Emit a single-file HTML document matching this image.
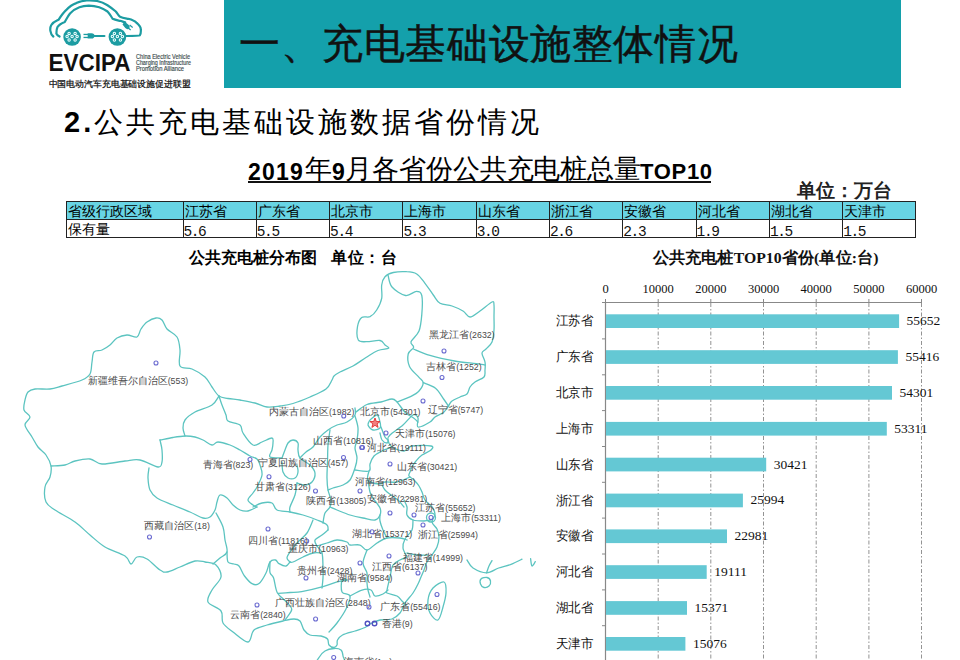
<!DOCTYPE html>
<html><head><meta charset="utf-8">
<style>
*{margin:0;padding:0;box-sizing:border-box}
html,body{width:960px;height:660px;overflow:hidden;background:#fff}
body{position:relative;font-family:"Liberation Sans",sans-serif;color:#000}
.abs{position:absolute;white-space:nowrap}
#hdr{position:absolute;left:224px;top:0;width:677px;height:88px;background:#14a0ab}
#hdr .t{position:absolute;left:240px;top:18px;font-size:41px;line-height:48px;color:#111;letter-spacing:0px}
table.d{position:absolute;left:66px;top:201px;border-collapse:collapse;font-size:14px}
table.d td{border:1px solid #222;height:17.7px;padding:0 0 0 1px;line-height:16px;vertical-align:bottom;overflow:hidden}
table.d tr.h td{background:#68d4e4}
table.d tr.r td{height:18.6px}
table.d td.n{font-family:"Liberation Mono",monospace;font-size:14.5px;letter-spacing:-1.4px;line-height:15px;padding-left:0;position:relative;top:3px;color:#111}
</style></head><body>
<!-- logo -->
<svg class="abs" style="left:0;top:0" width="220" height="95" viewBox="0 0 220 95">
 <g fill="none" stroke="#1c9ca2" stroke-width="2.2" stroke-linecap="round" stroke-linejoin="round">
  <path d="M53.3 36.5 C50 34 49.5 28 51.3 25 C53 22 56 21 58.5 19.8 C61 16 63 13 65.8 10.4 C69 7 72 4.5 76.3 3.1 C80 1.5 83 0.7 86.7 0.5 C90 0.3 94 0.5 97 1 C101 1.8 104 3 107.5 5.2 C111 7.5 113.5 9.5 115.8 11.5 C117.5 13.5 118.5 15.5 120 16.7 C122.5 18 125.5 18.3 128.3 18.8 C132 19.7 135 21 136.7 22.9 C139 25 140.8 27 140.8 29.2 C141 32 140.5 34.5 139.8 35.4 C139 36 134 36 126.3 36"/>
  <path d="M59.6 36.5 C57 35 56 33.5 56.5 32.3 C56.5 30 56.8 28.5 57.5 27 C59 24.5 62 23 64.8 21.9 C66.5 19 68 16 70 13.5 C73 10.5 76 8.5 79.4 7.3 C82.5 6.2 85.5 5.8 88.8 5.7 C92.5 5.7 96 6.3 99.2 7.3 C102.5 8.5 105.5 10 107.5 11.5 C110 14 111 16.5 112.7 18.8 C115 20 117.5 20.3 120 20.8 C122 21.3 123.5 22 125.2 22.4"/>
  <path d="M94 36 L104.4 36"/>
 </g>
 <circle cx="72.1" cy="37" r="8.8" fill="#1c9ca2"/>
 <circle cx="117.4" cy="37" r="8.8" fill="#1c9ca2"/>
 <g fill="none" stroke="#f0ffff" stroke-width="1.05">
  <circle cx="69.1" cy="33.4" r="1.2"/><circle cx="75.1" cy="33.4" r="1.2"/><circle cx="67.1" cy="36.5" r="1.2"/><circle cx="72.1" cy="36.5" r="1.2"/><circle cx="77.1" cy="36.5" r="1.2"/><circle cx="69.1" cy="40" r="1.2"/><circle cx="75.1" cy="40" r="1.2"/>
  <circle cx="114.4" cy="33.4" r="1.2"/><circle cx="120.4" cy="33.4" r="1.2"/><circle cx="112.4" cy="36.5" r="1.2"/><circle cx="117.4" cy="36.5" r="1.2"/><circle cx="122.4" cy="36.5" r="1.2"/><circle cx="114.4" cy="40" r="1.2"/><circle cx="120.4" cy="40" r="1.2"/>
 </g>
 <g fill="#1c9ca2">
  <path d="M87.7 33.3 L91.5 33.3 C93.5 33.3 94.5 34.5 94.5 35.9 C94.5 37.3 93.5 38.5 91.5 38.5 L87.7 38.5 Z"/>
  <rect x="83.5" y="33.8" width="4.5" height="1.3"/><rect x="83.5" y="36.8" width="4.5" height="1.3"/>
  <path d="M124.5 21.5 L128.5 24.8 C130 26 130 27.5 129 28.5 C128 29.5 126.5 29.3 125.3 28 L122.5 24.5 Z"/>
  <rect x="130" y="24.5" width="4" height="1.2" transform="rotate(40 130 24.5)"/><rect x="128" y="27" width="4" height="1.2" transform="rotate(40 128 27)"/>
 </g>
 <text x="48.5" y="70.5" font-family="Liberation Sans" font-weight="bold" font-size="23.5" fill="#111" textLength="82" lengthAdjust="spacingAndGlyphs">EVCIPA</text>
 <g font-family="Liberation Sans" font-size="6.3" fill="#3a4a4c" stroke="#3a4a4c" stroke-width="0.15">
  <text x="136" y="58.5" textLength="54" lengthAdjust="spacingAndGlyphs">China Electric Vehicle</text>
  <text x="136" y="64.5" textLength="55" lengthAdjust="spacingAndGlyphs">Charging Infrastructure</text>
  <text x="136" y="70.5" textLength="48" lengthAdjust="spacingAndGlyphs">Promotion Alliance</text>
 </g>
 <text x="48.5" y="87" font-family="Liberation Sans" font-size="9" fill="#111" stroke="#111" stroke-width="0.25" textLength="142" lengthAdjust="spacingAndGlyphs">中国电动汽车充电基础设施促进联盟</text>
</svg>
<div id="hdr"></div>
<div class="abs" style="left:239px;top:19.5px;font-size:41px;line-height:48px;color:#111;letter-spacing:0.6px;-webkit-text-stroke:0.45px #111">一、充电基础设施整体情况</div>

<div class="abs" style="left:64px;top:104px;font-size:29px;line-height:36px;letter-spacing:3px"><b>2.</b>公共充电基础设施数据省份情况</div>

<div class="abs" style="left:248px;top:157.5px;font-size:23px;line-height:28px;font-weight:bold;letter-spacing:1.2px">2019</div>
<div class="abs" style="left:305px;top:153px;font-size:27px;line-height:32px">年</div>
<div class="abs" style="left:332px;top:157.5px;font-size:23px;line-height:28px;font-weight:bold">9</div>
<div class="abs" style="left:345px;top:153px;font-size:27px;line-height:32px">月</div>
<div class="abs" style="left:372px;top:153px;font-size:27px;line-height:32px;letter-spacing:-0.1px">各省份公共充电桩总量</div>
<div class="abs" style="left:640px;top:157.5px;font-size:22px;line-height:28px;font-weight:bold;letter-spacing:0.7px">TOP10</div>
<div class="abs" style="left:248px;top:180.5px;width:463px;height:2px;background:#111"></div>
<div class="abs" style="left:797px;top:179px;font-size:18.5px;line-height:24px;font-weight:bold;color:#222">单位：万台</div>

<table class="d">
<tr class="h"><td style="width:116.5px">省级行政区域</td><td style="width:73.3px">江苏省</td><td style="width:73.3px">广东省</td><td style="width:73.3px">北京市</td><td style="width:73.3px">上海市</td><td style="width:73.3px">山东省</td><td style="width:73.3px">浙江省</td><td style="width:73.3px">安徽省</td><td style="width:73.3px">河北省</td><td style="width:73.3px">湖北省</td><td style="width:73.3px">天津市</td></tr>
<tr class="r"><td>保有量</td><td class="n">5.6</td><td class="n">5.5</td><td class="n">5.4</td><td class="n">5.3</td><td class="n">3.0</td><td class="n">2.6</td><td class="n">2.3</td><td class="n">1.9</td><td class="n">1.5</td><td class="n">1.5</td></tr>
</table>

<div class="abs" style="left:189px;top:248px;font-size:15.5px;line-height:20px;font-weight:bold">公共充电桩分布图</div>
<div class="abs" style="left:331px;top:248px;font-size:15.5px;line-height:20px;font-weight:bold;letter-spacing:0.6px">单位：台</div>

<!-- MAP -->
<svg id="map" class="abs" style="left:0;top:0" width="560" height="660" viewBox="0 0 560 660">
<g fill="none" stroke="#5cc4c0" stroke-width="1.3" stroke-linejoin="round" stroke-linecap="round">
<path d="M51.0 466.0 C50.3 462.3 48.2 458.2 46.0 455.0 C43.8 451.8 40.3 450.0 38.0 447.0 C35.7 444.0 34.2 440.7 32.0 437.0 C29.8 433.3 25.3 428.3 25.0 425.0 C24.7 421.7 30.2 419.5 30.0 417.0 C29.8 414.5 24.8 412.8 24.0 410.0 C23.2 407.2 24.3 403.0 25.0 400.0 C25.7 397.0 26.3 393.8 28.0 392.0 C29.7 390.2 31.3 389.5 35.0 389.0 C38.7 388.5 45.5 389.5 50.0 389.0 C54.5 388.5 56.7 387.5 62.0 386.0 C67.3 384.5 77.3 382.0 82.0 380.0 C86.7 378.0 88.3 377.0 90.0 374.0 C91.7 371.0 91.3 365.7 92.0 362.0 C92.7 358.3 92.3 354.0 94.0 352.0 C95.7 350.0 99.3 351.2 102.0 350.0 C104.7 348.8 107.5 347.0 110.0 345.0 C112.5 343.0 114.2 339.7 117.0 338.0 C119.8 336.3 123.7 335.2 127.0 335.0 C130.3 334.8 134.7 338.0 137.0 337.0 C139.3 336.0 139.3 331.5 141.0 329.0 C142.7 326.5 144.5 323.8 147.0 322.0 C149.5 320.2 153.5 318.3 156.0 318.0 C158.5 317.7 160.2 318.2 162.0 320.0 C163.8 321.8 164.5 326.2 167.0 329.0 C169.5 331.8 174.8 333.5 177.0 337.0 C179.2 340.5 179.5 345.2 180.0 350.0 C180.5 354.8 178.0 362.8 180.0 366.0 C182.0 369.2 187.8 367.2 192.0 369.0 C196.2 370.8 201.7 374.0 205.0 377.0 C208.3 380.0 209.7 383.8 212.0 387.0 C214.3 390.2 216.3 394.1 219.0 396.0 C221.7 397.9 224.5 397.8 228.0 398.5 C231.5 399.2 235.5 399.2 240.0 400.0 C244.5 400.8 250.5 401.8 255.0 403.0 C259.5 404.2 262.8 406.5 267.0 407.0 C271.2 407.5 275.7 406.6 280.0 406.0 C284.3 405.4 288.0 405.0 293.0 403.5 C298.0 402.0 304.5 399.4 310.0 397.0 C315.5 394.6 322.3 391.8 326.0 389.0 C329.7 386.2 330.7 382.2 332.0 380.0 C333.3 377.8 332.7 377.3 334.0 376.0 C335.3 374.7 336.8 373.7 340.0 372.0 C343.2 370.3 348.7 368.4 353.0 366.0 C357.3 363.6 361.8 360.1 366.0 357.5 C370.2 354.9 374.2 352.0 378.0 350.5 C381.8 349.0 387.3 349.2 388.5 348.3 C389.7 347.4 386.4 346.3 385.0 345.0 C383.6 343.7 383.1 341.1 380.0 340.5 C376.9 339.9 370.3 341.8 366.7 341.7 C363.1 341.6 359.8 342.5 358.3 340.0 C356.8 337.5 356.9 330.4 357.5 326.7 C358.1 322.9 359.6 319.2 361.7 317.5 C363.8 315.8 367.5 317.9 370.0 316.7 C372.5 315.4 374.8 313.1 376.7 310.0 C378.6 306.9 380.9 302.5 381.7 298.3 C382.5 294.1 381.1 288.6 381.7 285.0 C382.2 281.4 383.1 278.8 385.0 276.7 C386.9 274.6 389.7 273.3 393.3 272.5 C396.9 271.7 402.8 271.4 406.7 271.7 C410.6 271.9 413.6 272.1 416.7 274.0 C419.8 275.9 422.2 279.8 425.0 283.3 C427.8 286.8 430.8 291.7 433.3 295.0 C435.8 298.3 436.9 301.5 440.0 303.3 C443.1 305.1 448.2 304.7 452.0 306.0 C455.8 307.3 460.0 309.2 463.0 311.0 C466.0 312.8 467.2 317.0 470.0 317.0 C472.8 317.0 476.3 313.5 480.0 311.0 C483.7 308.5 489.7 303.0 492.0 302.0 C494.3 301.0 493.7 302.5 494.0 305.0 C494.3 307.5 494.0 312.8 494.0 317.0 C494.0 321.2 494.3 325.8 494.0 330.0 C493.7 334.2 493.3 338.8 492.0 342.0 C490.7 345.2 487.7 347.2 486.0 349.0 C484.3 350.8 482.2 350.8 482.0 353.0 C481.8 355.2 484.5 359.2 485.0 362.0 C485.5 364.8 485.2 367.5 485.0 370.0 C484.8 372.5 485.7 375.0 484.0 377.0 C482.3 379.0 477.3 380.3 475.0 382.0 C472.7 383.7 471.3 385.0 470.0 387.0 C468.7 389.0 468.7 392.3 467.0 394.0 C465.3 395.7 462.5 395.8 460.0 397.0 C457.5 398.2 453.8 399.7 452.0 401.0 C450.2 402.3 450.3 403.2 449.0 405.0 C447.7 406.8 446.3 410.0 444.0 412.0 C441.7 414.0 437.3 415.3 435.0 417.0 C432.7 418.7 432.8 420.3 430.0 422.0 C427.2 423.7 420.0 427.7 418.0 427.0 C416.0 426.3 418.8 420.0 418.0 418.0 C417.2 416.0 415.5 413.8 413.0 415.0 C410.5 416.2 406.8 421.7 403.0 425.0 C399.2 428.3 392.5 432.5 390.0 435.0 C387.5 437.5 387.7 438.0 388.0 440.0 C388.3 442.0 389.3 445.2 392.0 447.0 C394.7 448.8 400.7 451.2 404.0 451.0 C407.3 450.8 407.5 446.8 412.0 446.0 C416.5 445.2 427.8 445.3 431.0 446.0 C434.2 446.7 432.5 448.5 431.0 450.0 C429.5 451.5 424.5 453.2 422.0 455.0 C419.5 456.8 417.7 459.0 416.0 461.0 C414.3 463.0 413.0 465.2 412.0 467.0 C411.0 468.8 410.5 470.5 410.0 472.0 C409.5 473.5 408.3 474.7 409.0 476.0 C409.7 477.3 412.3 478.3 414.0 480.0 C415.7 481.7 417.7 484.0 419.0 486.0 C420.3 488.0 421.0 489.7 422.0 492.0 C423.0 494.3 423.3 497.5 425.0 500.0 C426.7 502.5 430.3 504.7 432.0 507.0 C433.7 509.3 435.0 511.5 435.0 514.0 C435.0 516.5 431.7 519.5 432.0 522.0 C432.3 524.5 435.8 526.5 437.0 529.0 C438.2 531.5 439.0 534.0 439.0 537.0 C439.0 540.0 438.2 544.0 437.0 547.0 C435.8 550.0 433.7 552.5 432.0 555.0 C430.3 557.5 428.3 559.5 427.0 562.0 C425.7 564.5 425.0 567.5 424.0 570.0 C423.0 572.5 422.0 574.7 421.0 577.0 C420.0 579.3 419.3 581.3 418.0 584.0 C416.7 586.7 415.2 589.8 413.0 593.0 C410.8 596.2 407.2 599.7 405.0 603.0 C402.8 606.3 402.2 610.3 400.0 613.0 C397.8 615.7 395.3 617.8 392.0 619.0 C388.7 620.2 383.7 619.2 380.0 620.0 C376.3 620.8 372.5 622.8 370.0 624.0 C367.5 625.2 367.5 626.3 365.0 627.5 C362.5 628.7 358.8 629.8 355.0 631.0 C351.2 632.2 345.4 633.5 342.5 635.0 C339.6 636.5 338.4 638.3 337.5 640.0 C336.6 641.7 337.6 643.8 337.0 645.0 C336.4 646.2 335.3 647.5 334.0 647.5 C332.7 647.5 330.1 646.4 329.0 645.0 C327.9 643.6 328.8 640.5 327.5 639.0 C326.2 637.5 323.9 636.7 321.0 636.0 C318.1 635.3 312.8 636.0 310.0 635.0 C307.2 634.0 305.7 632.3 304.0 630.0 C302.3 627.7 301.7 622.8 300.0 621.0 C298.3 619.2 296.8 619.0 294.0 619.0 C291.2 619.0 287.5 620.0 283.0 621.0 C278.5 622.0 271.8 623.5 267.0 625.0 C262.2 626.5 257.2 627.2 254.0 630.0 C250.8 632.8 251.5 641.7 248.0 642.0 C244.5 642.3 237.2 635.2 233.0 632.0 C228.8 628.8 225.0 626.5 223.0 623.0 C221.0 619.5 223.5 614.5 221.0 611.0 C218.5 607.5 209.5 605.5 208.0 602.0 C206.5 598.5 209.8 594.2 212.0 590.0 C214.2 585.8 220.3 581.2 221.0 577.0 C221.7 572.8 218.7 567.5 216.0 565.0 C213.3 562.5 208.5 562.7 205.0 562.0 C201.5 561.3 199.2 560.2 195.0 561.0 C190.8 561.8 184.7 565.2 180.0 567.0 C175.3 568.8 170.3 571.5 167.0 572.0 C163.7 572.5 163.3 572.2 160.0 570.0 C156.7 567.8 150.8 561.2 147.0 559.0 C143.2 556.8 139.7 556.2 137.0 557.0 C134.3 557.8 133.0 564.2 131.0 564.0 C129.0 563.8 129.3 558.8 125.0 556.0 C120.7 553.2 110.8 550.5 105.0 547.0 C99.2 543.5 95.0 539.2 90.0 535.0 C85.0 530.8 80.8 526.2 75.0 522.0 C69.2 517.8 59.8 513.3 55.0 510.0 C50.2 506.7 47.7 505.8 46.0 502.0 C44.3 498.2 44.3 491.2 45.0 487.0 C45.7 482.8 49.0 480.5 50.0 477.0 C51.0 473.5 51.7 469.7 51.0 466.0Z"/>
<path d="M51.0 466.0 C53.3 465.8 61.0 465.8 65.0 465.0 C69.0 464.2 70.8 462.0 75.0 461.0 C79.2 460.0 85.5 458.5 90.0 459.0 C94.5 459.5 96.2 463.7 102.0 464.0 C107.8 464.3 118.7 461.7 125.0 461.0 C131.3 460.3 134.5 459.0 140.0 460.0 C145.5 461.0 154.3 466.7 158.0 467.0 C161.7 467.3 161.3 464.8 162.0 462.0 C162.7 459.2 162.3 453.7 162.0 450.0 C161.7 446.3 160.3 441.7 160.0 440.0"/>
<path d="M219.0 396.0 C217.8 397.5 216.0 402.3 212.0 405.0 C208.0 407.7 199.5 409.5 195.0 412.0 C190.5 414.5 187.0 417.3 185.0 420.0 C183.0 422.7 183.0 425.3 183.0 428.0 C183.0 430.7 184.7 434.7 185.0 436.0"/>
<path d="M160.0 440.0 C162.2 439.6 168.8 438.2 173.0 437.5 C177.2 436.8 181.3 436.1 185.0 436.0 C188.7 435.9 192.0 436.3 195.0 437.0 C198.0 437.7 200.2 438.7 203.0 440.0 C205.8 441.3 209.5 444.7 212.0 445.0 C214.5 445.3 215.0 442.0 218.0 442.0 C221.0 442.0 226.3 443.7 230.0 445.0 C233.7 446.3 236.7 448.2 240.0 450.0 C243.3 451.8 247.2 454.5 250.0 456.0 C252.8 457.5 255.3 457.5 257.0 459.0 C258.7 460.5 259.2 462.3 260.0 465.0 C260.8 467.7 262.5 471.3 262.0 475.0 C261.5 478.7 258.5 484.0 257.0 487.0 C255.5 490.0 254.5 490.8 253.0 493.0 C251.5 495.2 248.0 498.0 248.0 500.0 C248.0 502.0 251.5 503.8 253.0 505.0 C254.5 506.2 256.3 506.7 257.0 507.0"/>
<path d="M257.0 507.0 C255.5 507.7 250.8 510.5 248.0 511.0 C245.2 511.5 242.5 511.0 240.0 510.0 C237.5 509.0 235.2 507.0 233.0 505.0 C230.8 503.0 229.2 499.7 227.0 498.0 C224.8 496.3 221.7 494.3 220.0 495.0 C218.3 495.7 217.8 499.5 217.0 502.0 C216.2 504.5 216.2 507.5 215.0 510.0 C213.8 512.5 212.0 515.7 210.0 517.0 C208.0 518.3 206.3 518.8 203.0 518.0 C199.7 517.2 195.0 514.2 190.0 512.0 C185.0 509.8 178.5 507.3 173.0 505.0 C167.5 502.7 160.8 500.5 157.0 498.0 C153.2 495.5 151.5 493.3 150.0 490.0 C148.5 486.7 148.2 481.7 148.0 478.0 C147.8 474.3 148.8 469.7 149.0 468.0"/>
<path d="M216.0 513.0 C217.2 515.3 221.5 522.5 223.0 527.0 C224.5 531.5 224.3 535.8 225.0 540.0 C225.7 544.2 227.8 549.0 227.0 552.0 C226.2 555.0 222.3 556.0 220.0 558.0 C217.7 560.0 214.2 563.0 213.0 564.0"/>
<path d="M253.0 507.0 C254.5 506.3 258.8 503.7 262.0 503.0 C265.2 502.3 269.5 501.8 272.0 503.0 C274.5 504.2 274.0 508.5 277.0 510.0 C280.0 511.5 285.7 511.2 290.0 512.0 C294.3 512.8 298.5 513.7 303.0 515.0 C307.5 516.3 313.0 518.3 317.0 520.0 C321.0 521.7 325.2 523.3 327.0 525.0 C328.8 526.7 327.8 529.2 328.0 530.0"/>
<path d="M297.0 483.0 C296.7 485.0 296.2 491.0 295.0 495.0 C293.8 499.0 290.8 504.2 290.0 507.0 C289.2 509.8 290.0 511.2 290.0 512.0"/>
<path d="M219.0 396.0 C219.5 397.5 220.8 401.8 222.0 405.0 C223.2 408.2 225.0 412.3 226.0 415.0 C227.0 417.7 225.7 419.3 228.0 421.0 C230.3 422.7 237.5 423.0 240.0 425.0 C242.5 427.0 240.8 429.7 243.0 433.0 C245.2 436.3 249.8 443.5 253.0 445.0 C256.2 446.5 258.8 443.2 262.0 442.0 C265.2 440.8 270.2 437.8 272.0 438.0 C273.8 438.2 273.0 441.0 273.0 443.0 C273.0 445.0 272.5 447.7 272.0 450.0 C271.5 452.3 268.3 455.7 270.0 457.0 C271.7 458.3 280.0 457.8 282.0 458.0"/>
<path d="M282.0 458.0 C282.5 456.7 284.0 452.5 285.0 450.0 C286.0 447.5 286.7 444.7 288.0 443.0 C289.3 441.3 291.3 440.0 293.0 440.0 C294.7 440.0 297.2 441.3 298.0 443.0 C298.8 444.7 297.7 447.5 298.0 450.0 C298.3 452.5 298.0 455.5 300.0 458.0 C302.0 460.5 307.5 462.5 310.0 465.0 C312.5 467.5 314.7 470.2 315.0 473.0 C315.3 475.8 313.7 480.0 312.0 482.0 C310.3 484.0 307.5 484.8 305.0 485.0 C302.5 485.2 298.3 483.3 297.0 483.0"/>
<path d="M282.0 462.0 C282.2 463.7 282.0 469.3 283.0 472.0 C284.0 474.7 286.0 477.0 288.0 478.0 C290.0 479.0 293.3 479.0 295.0 478.0 C296.7 477.0 297.7 474.2 298.0 472.0 C298.3 469.8 297.2 466.2 297.0 465.0"/>
<path d="M300.0 458.0 C301.0 457.0 303.8 453.8 306.0 452.0 C308.2 450.2 310.7 449.5 313.0 447.0 C315.3 444.5 317.5 439.8 320.0 437.0 C322.5 434.2 325.2 432.0 328.0 430.0 C330.8 428.0 333.8 426.3 337.0 425.0 C340.2 423.7 344.0 423.7 347.0 422.0 C350.0 420.3 353.7 417.3 355.0 415.0 C356.3 412.7 355.0 409.2 355.0 408.0"/>
<path d="M330.0 430.0 C329.7 432.5 328.4 439.7 328.0 445.0 C327.6 450.3 327.7 456.5 327.5 462.0 C327.3 467.5 326.9 473.3 327.0 478.0 C327.1 482.7 327.3 486.3 328.0 490.0 C328.7 493.7 330.7 497.2 331.0 500.0 C331.3 502.8 331.0 504.8 330.0 507.0 C329.0 509.2 326.2 510.3 325.0 513.0 C323.8 515.7 323.3 521.3 323.0 523.0"/>
<path d="M355.0 416.0 C355.5 418.0 357.7 424.0 358.0 428.0 C358.3 432.0 357.5 436.7 357.0 440.0 C356.5 443.3 355.0 445.0 355.0 448.0 C355.0 451.0 357.0 454.7 357.0 458.0 C357.0 461.3 356.2 464.3 355.0 468.0 C353.8 471.7 352.0 477.2 350.0 480.0 C348.0 482.8 345.8 483.7 343.0 485.0 C340.2 486.3 335.5 487.2 333.0 488.0 C330.5 488.8 328.8 489.7 328.0 490.0"/>
<path d="M355.0 470.0 C357.3 470.2 366.5 472.0 369.0 471.0 C371.5 470.0 369.2 466.5 370.0 464.0 C370.8 461.5 372.0 458.2 374.0 456.0 C376.0 453.8 379.0 452.5 382.0 451.0 C385.0 449.5 390.3 447.7 392.0 447.0"/>
<path d="M369.0 471.0 C368.8 472.5 366.3 477.8 368.0 480.0 C369.7 482.2 376.2 483.7 379.0 484.0 C381.8 484.3 382.0 482.3 385.0 482.0 C388.0 481.7 392.8 482.8 397.0 482.0 C401.2 481.2 407.8 477.8 410.0 477.0"/>
<path d="M330.0 507.0 C331.2 507.5 333.7 508.7 337.0 510.0 C340.3 511.3 345.7 513.7 350.0 515.0 C354.3 516.3 358.8 517.2 363.0 518.0 C367.2 518.8 372.2 520.5 375.0 520.0 C377.8 519.5 379.2 517.0 380.0 515.0 C380.8 513.0 381.2 510.8 380.0 508.0 C378.8 505.2 374.7 500.7 373.0 498.0 C371.3 495.3 370.8 495.0 370.0 492.0 C369.2 489.0 368.3 482.0 368.0 480.0"/>
<path d="M382.0 485.0 C382.5 485.8 383.5 488.3 385.0 490.0 C386.5 491.7 388.8 493.3 391.0 495.0 C393.2 496.7 395.8 498.0 398.0 500.0 C400.2 502.0 403.0 505.8 404.0 507.0"/>
<path d="M313.0 520.0 C312.0 522.2 309.7 529.2 307.0 533.0 C304.3 536.8 299.8 539.8 297.0 543.0 C294.2 546.2 291.7 549.5 290.0 552.0 C288.3 554.5 287.0 556.3 287.0 558.0 C287.0 559.7 289.5 561.3 290.0 562.0"/>
<path d="M328.0 530.0 C327.0 530.8 324.2 533.3 322.0 535.0 C319.8 536.7 315.8 538.2 315.0 540.0 C314.2 541.8 315.8 543.8 317.0 546.0 C318.2 548.2 321.0 549.5 322.0 553.0 C323.0 556.5 322.8 562.8 323.0 567.0 C323.2 571.2 323.2 574.5 323.0 578.0 C322.8 581.5 322.2 586.3 322.0 588.0"/>
<path d="M290.0 562.0 C290.5 562.0 290.8 562.8 293.0 562.0 C295.2 561.2 299.7 558.5 303.0 557.0 C306.3 555.5 309.8 553.7 313.0 553.0 C316.2 552.3 320.5 553.0 322.0 553.0"/>
<path d="M227.0 552.0 C227.2 553.7 226.8 560.0 228.0 562.0 C229.2 564.0 232.2 563.3 234.0 564.0 C235.8 564.7 237.2 564.0 239.0 566.0 C240.8 568.0 242.3 573.1 244.5 576.0 C246.7 578.9 249.6 582.3 252.0 583.6 C254.4 584.9 256.7 585.4 259.0 583.6 C261.3 581.8 264.2 576.6 266.0 573.0 C267.8 569.4 268.4 564.2 270.0 562.0 C271.6 559.8 274.0 559.7 275.5 560.0 C277.0 560.3 277.2 562.6 279.0 563.6 C280.8 564.6 284.2 566.3 286.0 566.0 C287.8 565.7 289.3 562.7 290.0 562.0"/>
<path d="M278.3 593.3 C280.2 593.2 286.1 592.8 290.0 592.5 C293.9 592.2 296.2 592.7 301.7 591.7 C307.2 590.7 316.9 588.4 323.0 586.7 C329.1 585.0 334.0 582.8 338.0 581.7 C342.0 580.6 345.5 580.3 347.0 580.0"/>
<path d="M285.0 620.0 C285.5 619.3 286.9 617.8 288.0 616.0 C289.1 614.2 292.0 611.4 291.7 609.0 C291.4 606.6 288.8 604.5 286.4 601.8 C284.0 599.1 279.4 596.7 277.3 592.7 C275.2 588.7 274.8 581.3 273.6 578.0 C272.4 574.7 270.6 575.4 270.0 572.7 C269.4 570.0 270.0 563.8 270.0 562.0"/>
<path d="M317.0 546.0 C318.7 545.5 323.7 544.0 327.0 543.0 C330.3 542.0 333.7 540.2 337.0 540.0 C340.3 539.8 344.8 541.2 347.0 542.0 C349.2 542.8 347.8 544.5 350.0 545.0 C352.2 545.5 357.2 544.2 360.0 545.0 C362.8 545.8 364.2 550.3 367.0 550.0 C369.8 549.7 373.7 545.0 377.0 543.0 C380.3 541.0 383.2 538.8 387.0 538.0 C390.8 537.2 396.7 537.7 400.0 538.0 C403.3 538.3 405.8 539.7 407.0 540.0"/>
<path d="M380.0 515.0 C380.0 516.0 379.5 518.5 380.0 521.0 C380.5 523.5 381.8 527.2 383.0 530.0 C384.2 532.8 386.3 536.7 387.0 538.0"/>
<path d="M367.0 550.0 C366.3 552.2 363.0 559.2 363.0 563.0 C363.0 566.8 366.3 569.7 367.0 573.0 C367.7 576.3 366.8 580.2 367.0 583.0 C367.2 585.8 367.5 587.7 368.0 590.0 C368.5 592.3 369.7 595.8 370.0 597.0"/>
<path d="M347.0 580.0 C346.2 580.0 342.8 578.0 342.0 580.0 C341.2 582.0 340.7 589.3 342.0 592.0 C343.3 594.7 349.3 593.2 350.0 596.0 C350.7 598.8 348.2 604.5 346.0 609.0 C343.8 613.5 339.8 619.2 337.0 623.0 C334.2 626.8 330.3 630.5 329.0 632.0"/>
<path d="M350.0 596.0 C352.0 595.0 358.5 591.0 362.0 590.0 C365.5 589.0 368.8 589.0 371.0 590.0 C373.2 591.0 373.0 595.3 375.0 596.0 C377.0 596.7 380.8 595.0 383.0 594.0 C385.2 593.0 387.2 590.7 388.0 590.0"/>
<path d="M407.0 557.0 C405.8 557.5 402.3 558.7 400.0 560.0 C397.7 561.3 394.7 562.2 393.0 565.0 C391.3 567.8 391.0 572.8 390.0 577.0 C389.0 581.2 387.5 587.3 387.0 590.0 C386.5 592.7 385.3 592.0 387.0 593.0 C388.7 594.0 394.5 594.7 397.0 596.0 C399.5 597.3 400.5 599.5 402.0 601.0 C403.5 602.5 405.3 604.3 406.0 605.0"/>
<path d="M404.0 500.0 C404.5 501.2 406.5 504.5 407.0 507.0 C407.5 509.5 406.0 512.8 407.0 515.0 C408.0 517.2 410.2 519.0 413.0 520.0 C415.8 521.0 421.0 521.0 424.0 521.0 C427.0 521.0 429.8 520.2 431.0 520.0"/>
<path d="M413.0 520.0 C412.8 521.7 413.3 526.8 412.0 530.0 C410.7 533.2 406.5 536.0 405.0 539.0 C403.5 542.0 402.7 545.0 403.0 548.0 C403.3 551.0 406.3 555.5 407.0 557.0"/>
<path d="M407.0 553.0 C408.7 553.3 413.5 554.7 417.0 555.0 C420.5 555.3 426.2 555.0 428.0 555.0"/>
<path d="M356.0 412.0 C357.8 410.8 362.8 406.2 367.0 404.5 C371.2 402.8 376.8 402.9 381.0 402.0 C385.2 401.1 389.3 399.0 392.0 399.0 C394.7 399.0 394.8 399.7 397.0 402.0 C399.2 404.3 402.7 410.0 405.5 412.7 C408.3 415.4 411.5 416.4 413.6 418.0 C415.7 419.6 417.3 421.3 418.0 422.0"/>
<path d="M388.0 275.0 C388.7 277.0 389.1 283.6 392.0 287.0 C394.9 290.4 401.4 294.8 405.5 295.5 C409.6 296.2 413.7 291.4 416.4 291.4 C419.1 291.4 420.9 291.6 421.8 295.5 C422.7 299.4 422.3 308.6 421.8 314.5 C421.3 320.4 420.8 326.4 419.0 331.0 C417.2 335.6 411.9 339.1 411.0 341.8 C410.1 344.5 414.1 345.3 413.6 347.3 C413.1 349.3 408.9 350.8 408.2 354.0 C407.5 357.2 407.7 362.5 409.5 366.4 C411.3 370.3 416.7 374.6 419.0 377.3 C421.3 380.0 423.2 380.4 423.2 382.7 C423.2 385.0 421.0 388.7 419.0 391.0 C417.0 393.3 414.6 394.6 411.0 396.4 C407.4 398.2 399.6 400.9 397.3 401.8"/>
<path d="M413.6 349.0 C416.3 350.1 423.2 353.4 430.0 355.4 C436.8 357.4 446.8 359.6 454.5 361.0 C462.2 362.4 471.3 362.9 476.4 363.6 C481.5 364.3 483.6 364.8 485.0 365.0"/>
<path d="M423.2 382.7 C425.2 383.6 432.1 385.5 435.5 388.2 C438.9 390.9 441.4 395.9 443.6 399.0 C445.9 402.1 448.1 405.7 449.0 407.0"/>
<path d="M370.0 420.0 C371.2 419.2 375.3 414.7 377.0 415.0 C378.7 415.3 379.5 419.8 380.0 422.0 C380.5 424.2 381.2 426.7 380.0 428.0 C378.8 429.3 375.0 430.5 373.0 430.0 C371.0 429.5 368.5 426.7 368.0 425.0 C367.5 423.3 369.7 420.8 370.0 420.0"/>
<path d="M381.0 427.0 C381.7 428.7 383.8 434.8 385.0 437.0 C386.2 439.2 387.7 439.0 388.0 440.0 C388.3 441.0 388.0 443.0 387.0 443.0 C386.0 443.0 383.2 441.7 382.0 440.0 C380.8 438.3 380.3 434.2 380.0 433.0"/>
<path d="M444.0 582.0 C446.2 582.8 446.2 588.8 446.0 593.0 C445.8 597.2 444.3 602.5 443.0 607.0 C441.7 611.5 440.2 619.0 438.0 620.0 C435.8 621.0 431.7 616.3 430.0 613.0 C428.3 609.7 427.5 604.2 428.0 600.0 C428.5 595.8 430.3 591.0 433.0 588.0 C435.7 585.0 441.8 581.2 444.0 582.0Z"/>
<path d="M325.0 651.0 C327.5 649.5 331.3 648.7 334.0 648.5 C336.7 648.3 339.5 648.8 341.0 650.0 C342.5 651.2 342.7 653.7 343.0 656.0 C343.3 658.3 347.2 662.7 343.0 664.0 C338.8 665.3 322.0 665.1 318.0 664.0 C314.0 662.9 317.8 659.7 319.0 657.5 C320.2 655.3 322.5 652.5 325.0 651.0Z"/>
<path d="M481.0 579.0 C482.1 577.9 485.4 577.2 487.0 577.5 C488.6 577.8 490.2 579.6 490.5 581.0 C490.8 582.4 490.1 584.9 489.0 586.0 C487.9 587.1 485.4 587.8 484.0 587.5 C482.6 587.2 481.0 585.4 480.5 584.0 C480.0 582.6 479.9 580.1 481.0 579.0Z"/>
<path d="M467.0 560.0 C468.0 561.3 469.7 565.9 473.0 568.0 C476.3 570.1 482.3 572.8 486.6 572.8 C490.9 572.8 494.6 569.4 498.7 568.0 C502.8 566.6 507.1 565.9 511.0 564.4 C514.9 562.9 520.2 560.1 522.0 559.2"/>
<path d="M486.6 572.8 C487.0 571.7 488.1 568.0 489.0 566.0 C489.9 564.0 491.5 561.5 492.0 560.6"/>
<path d="M530.6 558.7 C530.8 559.9 531.2 565.5 532.0 566.0 C532.8 566.5 534.8 562.3 535.3 561.6"/>
</g>
<text x="87.5" y="383.7" font-family="Liberation Sans" fill="#4a4a4a"><tspan font-size="9.6">新疆维吾尔自治区</tspan><tspan font-size="8.8" dx="0.2">(553)</tspan></text>
<circle cx="156" cy="363" r="2" fill="none" stroke="#6a6ad0" stroke-width="1.1"/>
<text x="144" y="528.7" font-family="Liberation Sans" fill="#4a4a4a"><tspan font-size="9.6">西藏自治区</tspan><tspan font-size="8.8" dx="0.2">(18)</tspan></text>
<circle cx="149.5" cy="537" r="2" fill="none" stroke="#6a6ad0" stroke-width="1.1"/>
<text x="202.5" y="467.7" font-family="Liberation Sans" fill="#4a4a4a"><tspan font-size="9.6">青海省</tspan><tspan font-size="8.8" dx="0.2">(823)</tspan></text>
<circle cx="250" cy="459.5" r="2" fill="none" stroke="#6a6ad0" stroke-width="1.1"/>
<text x="257.5" y="465.7" font-family="Liberation Sans" fill="#4a4a4a"><tspan font-size="9.6">宁夏回族自治区</tspan><tspan font-size="8.8" dx="0.2">(457)</tspan></text>
<circle cx="343.5" cy="457.5" r="2" fill="none" stroke="#6a6ad0" stroke-width="1.1"/>
<text x="255" y="489.7" font-family="Liberation Sans" fill="#4a4a4a"><tspan font-size="9.6">甘肃省</tspan><tspan font-size="8.8" dx="0.2">(3126)</tspan></text>
<circle cx="269" cy="476.7" r="2" fill="none" stroke="#6a6ad0" stroke-width="1.1"/>
<text x="313" y="443.7" font-family="Liberation Sans" fill="#4a4a4a"><tspan font-size="9.6">山西省</tspan><tspan font-size="8.8" dx="0.2">(10816)</tspan></text>
<circle cx="362.5" cy="447.5" r="2" fill="none" stroke="#6a6ad0" stroke-width="1.1"/>
<text x="306" y="503.7" font-family="Liberation Sans" fill="#4a4a4a"><tspan font-size="9.6">陕西省</tspan><tspan font-size="8.8" dx="0.2">(13805)</tspan></text>
<circle cx="315.5" cy="491" r="2" fill="none" stroke="#6a6ad0" stroke-width="1.1"/>
<text x="366.7" y="501.7" font-family="Liberation Sans" fill="#4a4a4a"><tspan font-size="9.6">安徽省</tspan><tspan font-size="8.8" dx="0.2">(22981)</tspan></text>
<circle cx="390" cy="513" r="2" fill="none" stroke="#6a6ad0" stroke-width="1.1"/>
<text x="355" y="484.7" font-family="Liberation Sans" fill="#4a4a4a"><tspan font-size="9.6">河南省</tspan><tspan font-size="8.8" dx="0.2">(12963)</tspan></text>
<circle cx="360" cy="491" r="2" fill="none" stroke="#6a6ad0" stroke-width="1.1"/>
<text x="268.75" y="414.7" font-family="Liberation Sans" fill="#4a4a4a"><tspan font-size="9.6">内蒙古自治区</tspan><tspan font-size="8.8" dx="0.2">(1982)</tspan></text>
<circle cx="343.75" cy="416" r="2" fill="none" stroke="#6a6ad0" stroke-width="1.1"/>
<text x="360" y="414.7" font-family="Liberation Sans" fill="#4a4a4a"><tspan font-size="9.6">北京市</tspan><tspan font-size="8.8" dx="0.2">(54301)</tspan></text>
<text x="427.5" y="412.7" font-family="Liberation Sans" fill="#4a4a4a"><tspan font-size="9.6">辽宁省</tspan><tspan font-size="8.8" dx="0.2">(5747)</tspan></text>
<circle cx="423" cy="401" r="2" fill="none" stroke="#6a6ad0" stroke-width="1.1"/>
<text x="429" y="337.7" font-family="Liberation Sans" fill="#4a4a4a"><tspan font-size="9.6">黑龙江省</tspan><tspan font-size="8.8" dx="0.2">(2632)</tspan></text>
<circle cx="444" cy="351" r="2" fill="none" stroke="#6a6ad0" stroke-width="1.1"/>
<text x="426" y="369.7" font-family="Liberation Sans" fill="#4a4a4a"><tspan font-size="9.6">吉林省</tspan><tspan font-size="8.8" dx="0.2">(1252)</tspan></text>
<circle cx="442" cy="377.5" r="2" fill="none" stroke="#6a6ad0" stroke-width="1.1"/>
<text x="395" y="436.7" font-family="Liberation Sans" fill="#4a4a4a"><tspan font-size="9.6">天津市</tspan><tspan font-size="8.8" dx="0.2">(15076)</tspan></text>
<circle cx="386" cy="433" r="2" fill="none" stroke="#6a6ad0" stroke-width="1.1"/>
<text x="366.7" y="450.7" font-family="Liberation Sans" fill="#4a4a4a"><tspan font-size="9.6">河北省</tspan><tspan font-size="8.8" dx="0.2">(19111)</tspan></text>
<circle cx="361.7" cy="447.5" r="2" fill="none" stroke="#6a6ad0" stroke-width="1.1"/>
<text x="396.7" y="470.2" font-family="Liberation Sans" fill="#4a4a4a"><tspan font-size="9.6">山东省</tspan><tspan font-size="8.8" dx="0.2">(30421)</tspan></text>
<circle cx="390" cy="464" r="2" fill="none" stroke="#6a6ad0" stroke-width="1.1"/>
<text x="415" y="510.7" font-family="Liberation Sans" fill="#4a4a4a"><tspan font-size="9.6">江苏省</tspan><tspan font-size="8.8" dx="0.2">(55652)</tspan></text>
<circle cx="414" cy="515" r="2" fill="none" stroke="#6a6ad0" stroke-width="1.1"/>
<text x="441" y="521.2" font-family="Liberation Sans" fill="#4a4a4a"><tspan font-size="9.6">上海市</tspan><tspan font-size="8.8" dx="0.2">(53311)</tspan></text>
<text x="417.5" y="537.7" font-family="Liberation Sans" fill="#4a4a4a"><tspan font-size="9.6">浙江省</tspan><tspan font-size="8.8" dx="0.2">(25994)</tspan></text>
<circle cx="423" cy="525" r="2" fill="none" stroke="#6a6ad0" stroke-width="1.1"/>
<text x="402.5" y="560.7" font-family="Liberation Sans" fill="#4a4a4a"><tspan font-size="9.6">福建省</tspan><tspan font-size="8.8" dx="0.2">(14999)</tspan></text>
<circle cx="418" cy="573" r="2" fill="none" stroke="#6a6ad0" stroke-width="1.1"/>
<text x="371.7" y="569.7" font-family="Liberation Sans" fill="#4a4a4a"><tspan font-size="9.6">江西省</tspan><tspan font-size="8.8" dx="0.2">(6137)</tspan></text>
<circle cx="389" cy="556" r="2" fill="none" stroke="#6a6ad0" stroke-width="1.1"/>
<text x="351.7" y="536.7" font-family="Liberation Sans" fill="#4a4a4a"><tspan font-size="9.6">湖北省</tspan><tspan font-size="8.8" dx="0.2">(15371)</tspan></text>
<circle cx="372" cy="531.7" r="2" fill="none" stroke="#6a6ad0" stroke-width="1.1"/>
<text x="336.7" y="581.2" font-family="Liberation Sans" fill="#4a4a4a"><tspan font-size="9.6">湖南省</tspan><tspan font-size="8.8" dx="0.2">(9584)</tspan></text>
<circle cx="360" cy="563" r="2" fill="none" stroke="#6a6ad0" stroke-width="1.1"/>
<text x="296.7" y="573.7" font-family="Liberation Sans" fill="#4a4a4a"><tspan font-size="9.6">贵州省</tspan><tspan font-size="8.8" dx="0.2">(2428)</tspan></text>
<circle cx="306" cy="578" r="2" fill="none" stroke="#6a6ad0" stroke-width="1.1"/>
<text x="288" y="551.7" font-family="Liberation Sans" fill="#4a4a4a"><tspan font-size="9.6">重庆市</tspan><tspan font-size="8.8" dx="0.2">(10963)</tspan></text>
<circle cx="306.7" cy="541" r="2" fill="none" stroke="#6a6ad0" stroke-width="1.1"/>
<text x="248" y="543.7" font-family="Liberation Sans" fill="#4a4a4a"><tspan font-size="9.6">四川省</tspan><tspan font-size="8.8" dx="0.2">(11816)</tspan></text>
<circle cx="268" cy="529" r="2" fill="none" stroke="#6a6ad0" stroke-width="1.1"/>
<text x="230" y="617.7" font-family="Liberation Sans" fill="#4a4a4a"><tspan font-size="9.6">云南省</tspan><tspan font-size="8.8" dx="0.2">(2840)</tspan></text>
<circle cx="257" cy="605" r="2" fill="none" stroke="#6a6ad0" stroke-width="1.1"/>
<text x="275" y="605.7" font-family="Liberation Sans" fill="#4a4a4a"><tspan font-size="9.6">广西壮族自治区</tspan><tspan font-size="8.8" dx="0.2">(2848)</tspan></text>
<circle cx="315.6" cy="619" r="2" fill="none" stroke="#6a6ad0" stroke-width="1.1"/>
<text x="380" y="609.7" font-family="Liberation Sans" fill="#4a4a4a"><tspan font-size="9.6">广东省</tspan><tspan font-size="8.8" dx="0.2">(55416)</tspan></text>
<circle cx="369" cy="607" r="2" fill="none" stroke="#6a6ad0" stroke-width="1.1"/>
<text x="381.7" y="626.7" font-family="Liberation Sans" fill="#4a4a4a"><tspan font-size="9.6">香港</tspan><tspan font-size="8.8" dx="0.2">(9)</tspan></text>
<text x="344" y="664.7" font-family="Liberation Sans" fill="#4a4a4a"><tspan font-size="9.6">海南省</tspan><tspan font-size="8.8" dx="0.2">(1...)</tspan></text>
<circle cx="333.7" cy="657.5" r="2" fill="none" stroke="#6a6ad0" stroke-width="1.1"/>
<circle cx="437" cy="594.5" r="2" fill="none" stroke="#6a6ad0" stroke-width="1.1"/>
<circle cx="431" cy="517.5" r="4.5" fill="none" stroke="#5cc4c0" stroke-width="1.3"/><circle cx="431" cy="517.5" r="2" fill="none" stroke="#6a6ad0" stroke-width="1.1"/>
<circle cx="367.5" cy="623.5" r="2.3" fill="none" stroke="#5050c0" stroke-width="1.4"/><circle cx="374.5" cy="623.5" r="2.3" fill="none" stroke="#5050c0" stroke-width="1.4"/>
<polygon points="375,418 376.3,421.5 380,421.6 377.1,423.8 378.1,427.4 375,425.3 371.9,427.4 372.9,423.8 370,421.6 373.7,421.5" fill="#f08080" stroke="#e03030" stroke-width="0.9"/>
<circle cx="392" cy="431" r="0" />
</svg>

<!-- CHART -->
<svg id="chart" class="abs" style="left:540px;top:240px" width="420" height="420" viewBox="540 240 420 420">
<text x="652.5" y="262.5" font-family="Liberation Serif" font-weight="bold" font-size="15.5" fill="#111" textLength="226" lengthAdjust="spacingAndGlyphs">公共充电桩TOP10省份(单位:台)</text>
<line x1="658.2" y1="303" x2="658.2" y2="660" stroke="#777" stroke-width="0.8" stroke-dasharray="4,2,1.5,2"/>
<line x1="710.8" y1="303" x2="710.8" y2="660" stroke="#777" stroke-width="0.8" stroke-dasharray="4,2,1.5,2"/>
<line x1="763.5" y1="303" x2="763.5" y2="660" stroke="#777" stroke-width="0.8" stroke-dasharray="4,2,1.5,2"/>
<line x1="816.2" y1="303" x2="816.2" y2="660" stroke="#777" stroke-width="0.8" stroke-dasharray="4,2,1.5,2"/>
<line x1="868.9" y1="303" x2="868.9" y2="660" stroke="#777" stroke-width="0.8" stroke-dasharray="4,2,1.5,2"/>
<line x1="921.5" y1="303" x2="921.5" y2="660" stroke="#777" stroke-width="0.8" stroke-dasharray="4,2,1.5,2"/>
<line x1="602" y1="302.5" x2="922" y2="302.5" stroke="#888" stroke-width="1.2"/>
<line x1="605.5" y1="302" x2="605.5" y2="660" stroke="#888" stroke-width="1.2"/>
<line x1="605.5" y1="299" x2="605.5" y2="302" stroke="#888" stroke-width="1"/>
<text x="605.5" y="292.5" text-anchor="middle" font-family="Liberation Serif" font-size="12.5" fill="#111">0</text>
<line x1="658.2" y1="299" x2="658.2" y2="302" stroke="#888" stroke-width="1"/>
<text x="658.2" y="292.5" text-anchor="middle" font-family="Liberation Serif" font-size="12.5" fill="#111">10000</text>
<line x1="710.8" y1="299" x2="710.8" y2="302" stroke="#888" stroke-width="1"/>
<text x="710.8" y="292.5" text-anchor="middle" font-family="Liberation Serif" font-size="12.5" fill="#111">20000</text>
<line x1="763.5" y1="299" x2="763.5" y2="302" stroke="#888" stroke-width="1"/>
<text x="763.5" y="292.5" text-anchor="middle" font-family="Liberation Serif" font-size="12.5" fill="#111">30000</text>
<line x1="816.2" y1="299" x2="816.2" y2="302" stroke="#888" stroke-width="1"/>
<text x="816.2" y="292.5" text-anchor="middle" font-family="Liberation Serif" font-size="12.5" fill="#111">40000</text>
<line x1="868.9" y1="299" x2="868.9" y2="302" stroke="#888" stroke-width="1"/>
<text x="868.9" y="292.5" text-anchor="middle" font-family="Liberation Serif" font-size="12.5" fill="#111">50000</text>
<line x1="921.5" y1="299" x2="921.5" y2="302" stroke="#888" stroke-width="1"/>
<text x="921.5" y="292.5" text-anchor="middle" font-family="Liberation Serif" font-size="12.5" fill="#111">60000</text>
<rect x="606.0" y="314.3" width="293.1" height="13.7" fill="#64c8d4"/>
<text x="906.6" y="325.1" font-family="Liberation Serif" font-size="13.5" fill="#111">55652</text>
<text x="555.5" y="325.3" font-family="Liberation Sans" font-size="12.5" fill="#111" textLength="37.5" lengthAdjust="spacingAndGlyphs">江苏省</text>
<line x1="602" y1="338.9" x2="605.5" y2="338.9" stroke="#888" stroke-width="1"/>
<rect x="606.0" y="350.2" width="291.9" height="13.7" fill="#64c8d4"/>
<text x="905.4" y="361.0" font-family="Liberation Serif" font-size="13.5" fill="#111">55416</text>
<text x="555.5" y="361.2" font-family="Liberation Sans" font-size="12.5" fill="#111" textLength="37.5" lengthAdjust="spacingAndGlyphs">广东省</text>
<line x1="602" y1="374.8" x2="605.5" y2="374.8" stroke="#888" stroke-width="1"/>
<rect x="606.0" y="386.0" width="286.0" height="13.7" fill="#64c8d4"/>
<text x="899.5" y="396.8" font-family="Liberation Serif" font-size="13.5" fill="#111">54301</text>
<text x="555.5" y="397.0" font-family="Liberation Sans" font-size="12.5" fill="#111" textLength="37.5" lengthAdjust="spacingAndGlyphs">北京市</text>
<line x1="602" y1="410.6" x2="605.5" y2="410.6" stroke="#888" stroke-width="1"/>
<rect x="606.0" y="421.9" width="280.8" height="13.7" fill="#64c8d4"/>
<text x="894.3" y="432.7" font-family="Liberation Serif" font-size="13.5" fill="#111">53311</text>
<text x="555.5" y="432.9" font-family="Liberation Sans" font-size="12.5" fill="#111" textLength="37.5" lengthAdjust="spacingAndGlyphs">上海市</text>
<line x1="602" y1="446.5" x2="605.5" y2="446.5" stroke="#888" stroke-width="1"/>
<rect x="606.0" y="457.7" width="160.2" height="13.7" fill="#64c8d4"/>
<text x="773.7" y="468.5" font-family="Liberation Serif" font-size="13.5" fill="#111">30421</text>
<text x="555.5" y="468.7" font-family="Liberation Sans" font-size="12.5" fill="#111" textLength="37.5" lengthAdjust="spacingAndGlyphs">山东省</text>
<line x1="602" y1="482.3" x2="605.5" y2="482.3" stroke="#888" stroke-width="1"/>
<rect x="606.0" y="493.6" width="136.9" height="13.7" fill="#64c8d4"/>
<text x="750.4" y="504.4" font-family="Liberation Serif" font-size="13.5" fill="#111">25994</text>
<text x="555.5" y="504.6" font-family="Liberation Sans" font-size="12.5" fill="#111" textLength="37.5" lengthAdjust="spacingAndGlyphs">浙江省</text>
<line x1="602" y1="518.1" x2="605.5" y2="518.1" stroke="#888" stroke-width="1"/>
<rect x="606.0" y="529.4" width="121.0" height="13.7" fill="#64c8d4"/>
<text x="734.5" y="540.2" font-family="Liberation Serif" font-size="13.5" fill="#111">22981</text>
<text x="555.5" y="540.4" font-family="Liberation Sans" font-size="12.5" fill="#111" textLength="37.5" lengthAdjust="spacingAndGlyphs">安徽省</text>
<line x1="602" y1="554.0" x2="605.5" y2="554.0" stroke="#888" stroke-width="1"/>
<rect x="606.0" y="565.2" width="100.7" height="13.7" fill="#64c8d4"/>
<text x="714.2" y="576.0" font-family="Liberation Serif" font-size="13.5" fill="#111">19111</text>
<text x="555.5" y="576.2" font-family="Liberation Sans" font-size="12.5" fill="#111" textLength="37.5" lengthAdjust="spacingAndGlyphs">河北省</text>
<line x1="602" y1="589.9" x2="605.5" y2="589.9" stroke="#888" stroke-width="1"/>
<rect x="606.0" y="601.1" width="81.0" height="13.7" fill="#64c8d4"/>
<text x="694.5" y="611.9" font-family="Liberation Serif" font-size="13.5" fill="#111">15371</text>
<text x="555.5" y="612.1" font-family="Liberation Sans" font-size="12.5" fill="#111" textLength="37.5" lengthAdjust="spacingAndGlyphs">湖北省</text>
<line x1="602" y1="625.7" x2="605.5" y2="625.7" stroke="#888" stroke-width="1"/>
<rect x="606.0" y="637.0" width="79.4" height="13.7" fill="#64c8d4"/>
<text x="692.9" y="647.8" font-family="Liberation Serif" font-size="13.5" fill="#111">15076</text>
<text x="555.5" y="648.0" font-family="Liberation Sans" font-size="12.5" fill="#111" textLength="37.5" lengthAdjust="spacingAndGlyphs">天津市</text>
<line x1="602" y1="661.6" x2="605.5" y2="661.6" stroke="#888" stroke-width="1"/>
</svg>
</body></html>
